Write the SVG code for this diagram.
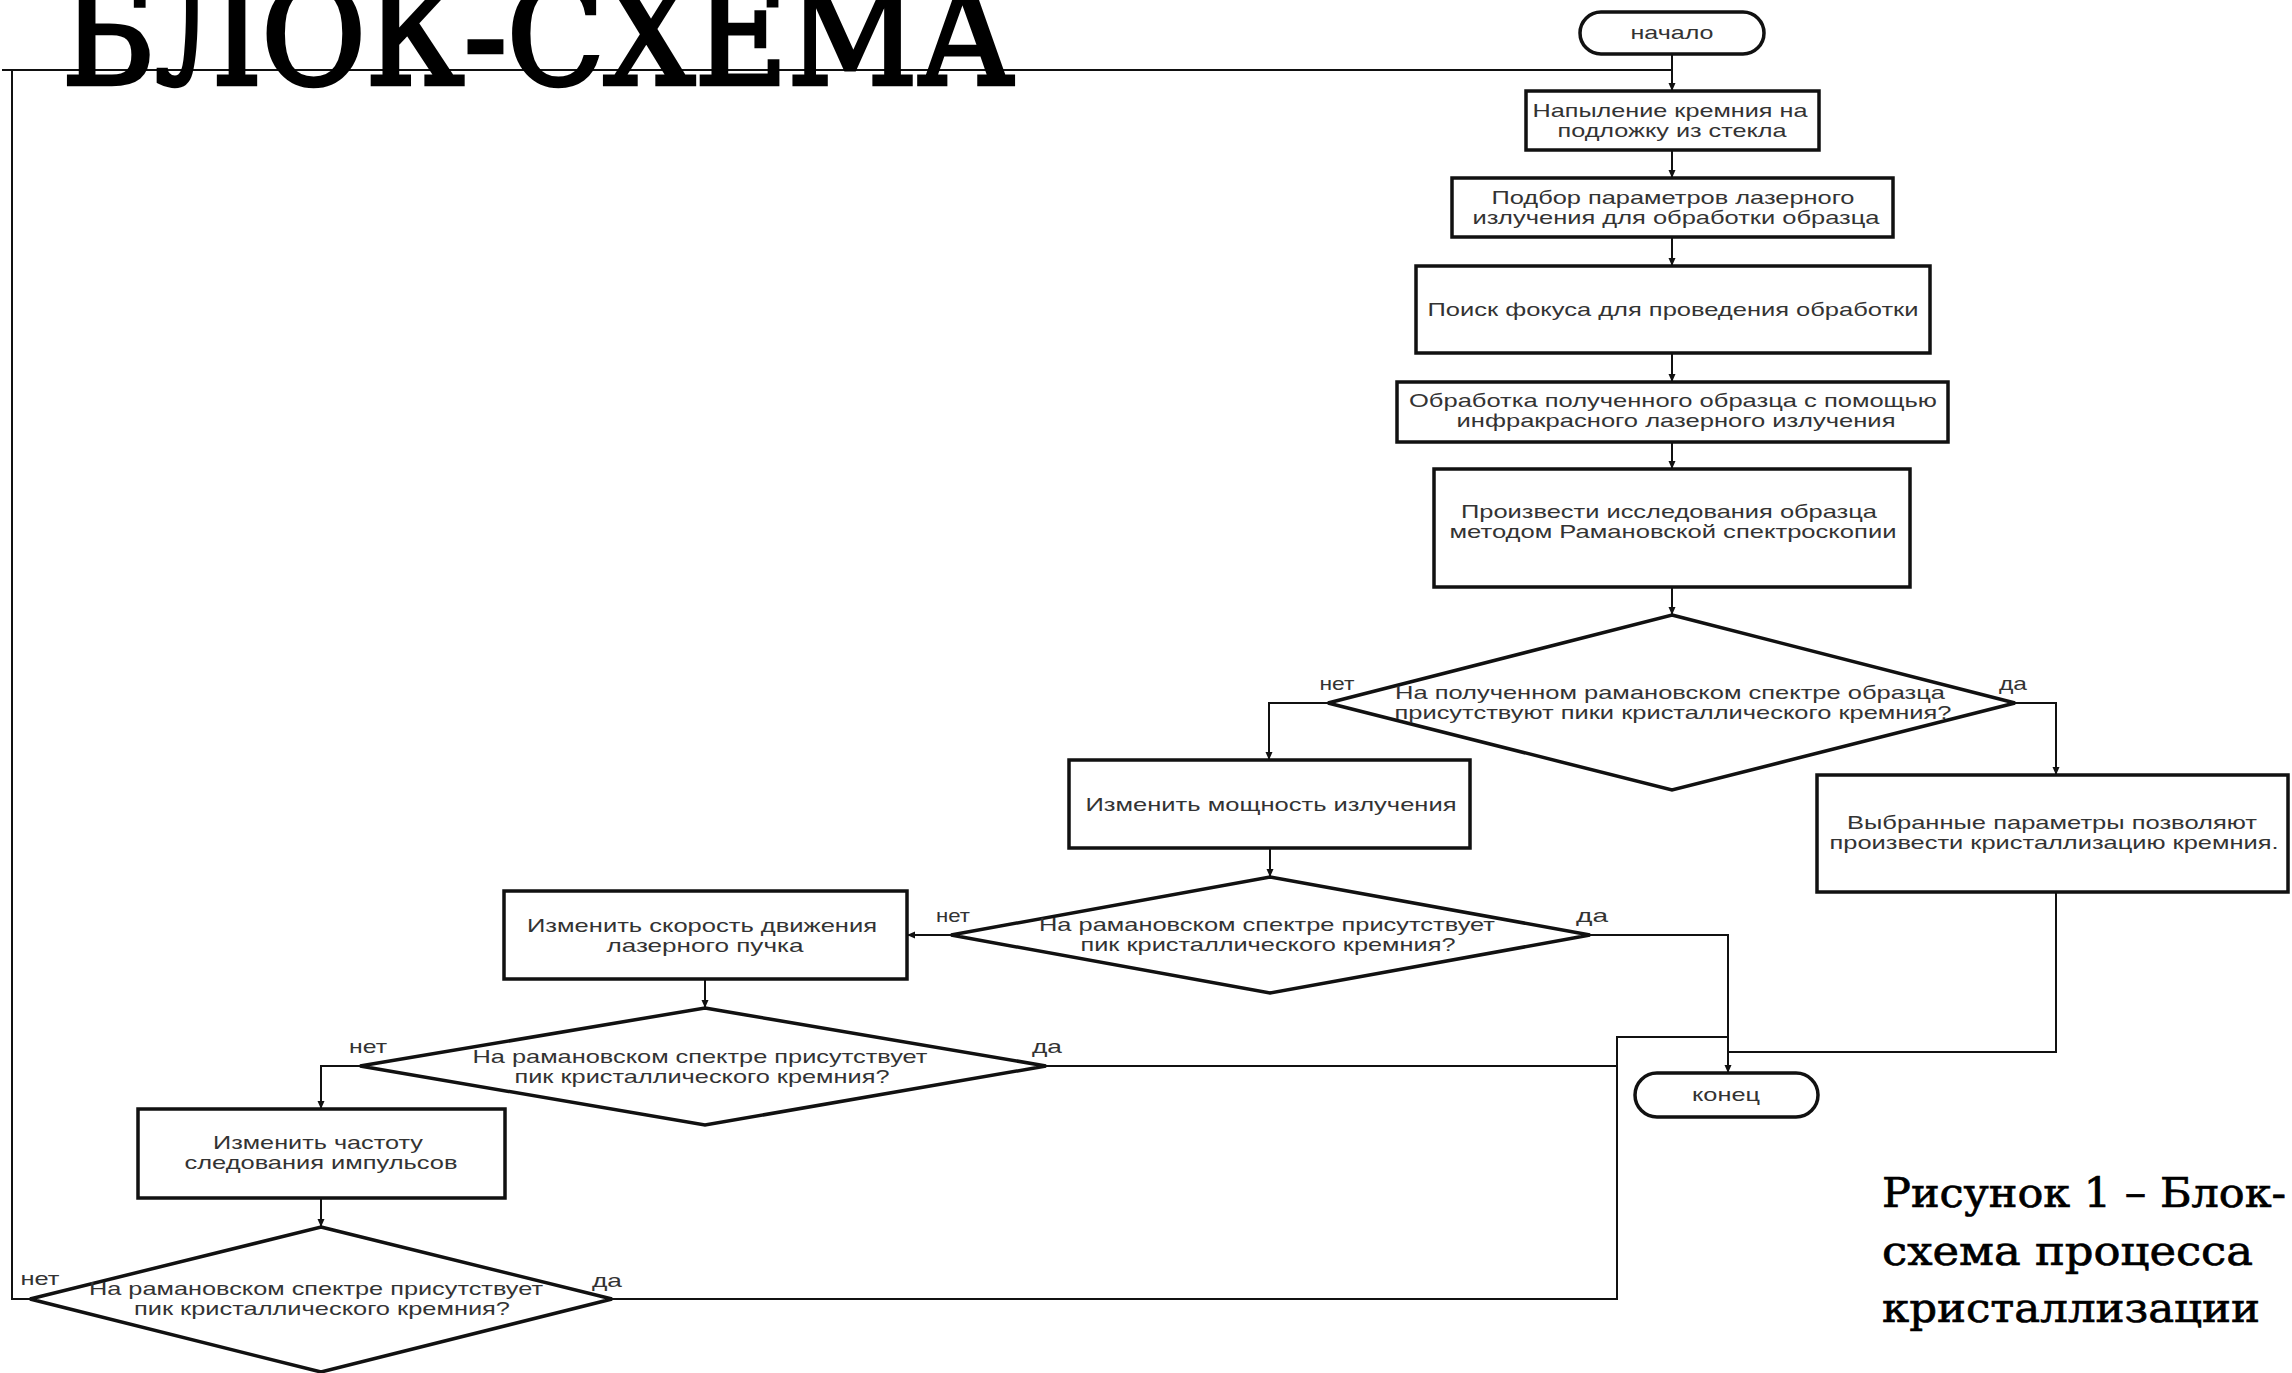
<svg xmlns="http://www.w3.org/2000/svg" width="2292" height="1373" viewBox="0 0 2292 1373">
<style>
.box{fill:#fff;stroke:#111;stroke-width:3.5}
.ln{fill:none;stroke:#111;stroke-width:2}
.t{font-family:"Liberation Sans",Arial,sans-serif;font-size:18.5px;fill:#333;text-anchor:middle}
.title{font-family:"DejaVu Serif","Liberation Serif",serif;font-size:138px;fill:#000;stroke:#000;stroke-width:4.5}
.cap{font-family:"DejaVu Serif","Liberation Serif",serif;font-size:41px;fill:#000;stroke:#000;stroke-width:0.7}
</style>
<defs>
<marker id="ar" markerUnits="userSpaceOnUse" markerWidth="9" markerHeight="8" refX="8" refY="3.5" orient="auto">
<path d="M0,0 L8,3.5 L0,7 z" fill="#111"/>
</marker>
</defs>
<rect width="2292" height="1373" fill="#fff"/>
<g id="connectors">
<path class="ln" d="M1672,54 V91" marker-end="url(#ar)"/>
<path class="ln" d="M30,1299 H12 V70 H1672"/>
<path class="ln" d="M2,70 H12"/>
<path class="ln" d="M1672,150 V178" marker-end="url(#ar)"/>
<path class="ln" d="M1672,237 V266" marker-end="url(#ar)"/>
<path class="ln" d="M1672,353 V382" marker-end="url(#ar)"/>
<path class="ln" d="M1672,442 V469" marker-end="url(#ar)"/>
<path class="ln" d="M1672,587 V615" marker-end="url(#ar)"/>
<path class="ln" d="M1328,703 H1269 V760" marker-end="url(#ar)"/>
<path class="ln" d="M2015,703 H2056 V775" marker-end="url(#ar)"/>
<path class="ln" d="M1270,848 V877" marker-end="url(#ar)"/>
<path class="ln" d="M951,935 H907" marker-end="url(#ar)"/>
<path class="ln" d="M1590,935 H1728 V1073" marker-end="url(#ar)"/>
<path class="ln" d="M2056,892 V1052 H1728"/>
<path class="ln" d="M705,979 V1008" marker-end="url(#ar)"/>
<path class="ln" d="M1046,1066 H1617"/>
<path class="ln" d="M360,1066 H321 V1109" marker-end="url(#ar)"/>
<path class="ln" d="M321,1198 V1227" marker-end="url(#ar)"/>
<path class="ln" d="M612,1299 H1617 V1037 H1728"/>
</g>
<g id="title"><text class="title" x="62" y="84" textLength="952" lengthAdjust="spacingAndGlyphs">БЛОК-СХЕМА</text></g>
<g id="start">
<rect class="box" x="1580" y="12" width="184" height="42" rx="21"/>
<text class="t" x="1672" y="39" textLength="83" lengthAdjust="spacingAndGlyphs">начало</text>
</g>
<g id="n1">
<rect class="box" x="1526" y="91" width="293" height="59"/>
<text class="t" x="1670" y="117" textLength="275" lengthAdjust="spacingAndGlyphs">Напыление кремния на</text>
<text class="t" x="1672" y="137" textLength="229" lengthAdjust="spacingAndGlyphs">подложку из стекла</text>
</g>
<g id="n2">
<rect class="box" x="1452" y="178" width="441" height="59"/>
<text class="t" x="1673" y="204" textLength="363" lengthAdjust="spacingAndGlyphs">Подбор параметров лазерного</text>
<text class="t" x="1676" y="224" textLength="407" lengthAdjust="spacingAndGlyphs">излучения для обработки образца</text>
</g>
<g id="n3">
<rect class="box" x="1416" y="266" width="514" height="87"/>
<text class="t" x="1673" y="316" textLength="491" lengthAdjust="spacingAndGlyphs">Поиск фокуса для проведения обработки</text>
</g>
<g id="n4">
<rect class="box" x="1397" y="382" width="551" height="60"/>
<text class="t" x="1673" y="407" textLength="528" lengthAdjust="spacingAndGlyphs">Обработка полученного образца с помощью</text>
<text class="t" x="1676" y="427" textLength="439" lengthAdjust="spacingAndGlyphs">инфракрасного лазерного излучения</text>
</g>
<g id="n5">
<rect class="box" x="1434" y="469" width="476" height="118"/>
<text class="t" x="1669" y="518" textLength="416" lengthAdjust="spacingAndGlyphs">Произвести исследования образца</text>
<text class="t" x="1673" y="538" textLength="447" lengthAdjust="spacingAndGlyphs">методом Рамановской спектроскопии</text>
</g>
<g id="d1">
<polygon class="box" points="1672,615 2015,703 1672,790 1328,703"/>
<text class="t" x="1670" y="699" textLength="550" lengthAdjust="spacingAndGlyphs">На полученном рамановском спектре образца</text>
<text class="t" x="1673" y="719" textLength="557" lengthAdjust="spacingAndGlyphs">присутствуют пики кристаллического кремния?</text>
<text class="t" x="1337" y="690" textLength="35" lengthAdjust="spacingAndGlyphs">нет</text>
<text class="t" x="2013" y="690" textLength="28" lengthAdjust="spacingAndGlyphs">да</text>
</g>
<g id="n6">
<rect class="box" x="1069" y="760" width="401" height="88"/>
<text class="t" x="1271" y="811" textLength="371" lengthAdjust="spacingAndGlyphs">Изменить мощность излучения</text>
</g>
<g id="n7">
<rect class="box" x="1817" y="775" width="471" height="117"/>
<text class="t" x="2052" y="829" textLength="410" lengthAdjust="spacingAndGlyphs">Выбранные параметры позволяют</text>
<text class="t" x="2054" y="849" textLength="449" lengthAdjust="spacingAndGlyphs">произвести кристаллизацию кремния.</text>
</g>
<g id="d2">
<polygon class="box" points="1270,877 1590,935 1270,993 951,935"/>
<text class="t" x="1267" y="931" textLength="456" lengthAdjust="spacingAndGlyphs">На рамановском спектре присутствует</text>
<text class="t" x="1268" y="951" textLength="375" lengthAdjust="spacingAndGlyphs">пик кристаллического кремния?</text>
<text class="t" x="953" y="922" textLength="34" lengthAdjust="spacingAndGlyphs">нет</text>
<text class="t" x="1592" y="922" textLength="32" lengthAdjust="spacingAndGlyphs">да</text>
</g>
<g id="n8">
<rect class="box" x="504" y="891" width="403" height="88"/>
<text class="t" x="702" y="932" textLength="350" lengthAdjust="spacingAndGlyphs">Изменить скорость движения</text>
<text class="t" x="705" y="952" textLength="197" lengthAdjust="spacingAndGlyphs">лазерного пучка</text>
</g>
<g id="d3">
<polygon class="box" points="705,1008 1046,1066 705,1125 360,1066"/>
<text class="t" x="700" y="1063" textLength="455" lengthAdjust="spacingAndGlyphs">На рамановском спектре присутствует</text>
<text class="t" x="702" y="1083" textLength="375" lengthAdjust="spacingAndGlyphs">пик кристаллического кремния?</text>
<text class="t" x="368" y="1053" textLength="38" lengthAdjust="spacingAndGlyphs">нет</text>
<text class="t" x="1047" y="1053" textLength="30" lengthAdjust="spacingAndGlyphs">да</text>
</g>
<g id="n9">
<rect class="box" x="138" y="1109" width="367" height="89"/>
<text class="t" x="318" y="1149" textLength="210" lengthAdjust="spacingAndGlyphs">Изменить частоту</text>
<text class="t" x="321" y="1169" textLength="273" lengthAdjust="spacingAndGlyphs">следования импульсов</text>
</g>
<g id="d4">
<polygon class="box" points="321,1227 612,1299 321,1372 30,1299"/>
<text class="t" x="316" y="1295" textLength="454" lengthAdjust="spacingAndGlyphs">На рамановском спектре присутствует</text>
<text class="t" x="322" y="1315" textLength="376" lengthAdjust="spacingAndGlyphs">пик кристаллического кремния?</text>
<text class="t" x="40" y="1285" textLength="39" lengthAdjust="spacingAndGlyphs">нет</text>
<text class="t" x="607" y="1287" textLength="30" lengthAdjust="spacingAndGlyphs">да</text>
</g>
<g id="end">
<rect class="box" x="1635" y="1073" width="183" height="44" rx="22"/>
<text class="t" x="1726" y="1101" textLength="68" lengthAdjust="spacingAndGlyphs">конец</text>
</g>
<g id="caption">
<text class="cap" x="1882" y="1207" textLength="404" lengthAdjust="spacingAndGlyphs">Рисунок 1 – Блок-</text>
<text class="cap" x="1882" y="1265" textLength="371" lengthAdjust="spacingAndGlyphs">схема процесса</text>
<text class="cap" x="1882" y="1322" textLength="378" lengthAdjust="spacingAndGlyphs">кристаллизации</text>
</g>
</svg>
